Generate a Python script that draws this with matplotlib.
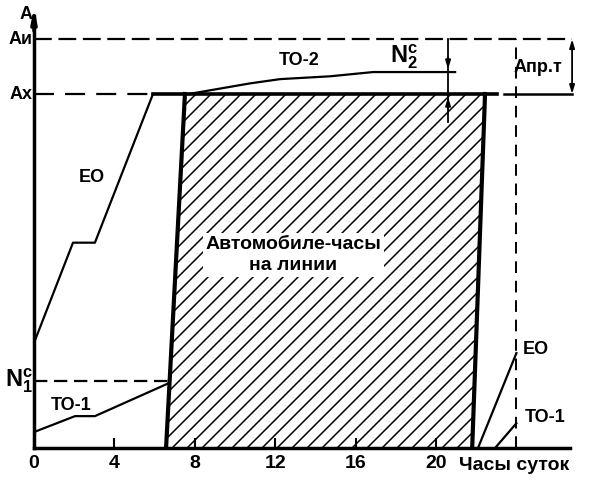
import numpy as np
import matplotlib.pyplot as plt
from matplotlib.patches import Polygon

plt.rcParams['font.family'] = ['Liberation Sans', 'DejaVu Sans']
plt.rcParams['font.weight'] = 'bold'
plt.rcParams['mathtext.fontset'] = 'custom'
plt.rcParams['mathtext.bf'] = 'Liberation Sans:bold'
plt.rcParams['mathtext.rm'] = 'Liberation Sans:bold'

# levels (A units, Ax = 100)
A_x = 100
A_i = 115.5
N1c = 19

# cumulative release curves (hours, cars)
eo_h = [0, 1.94, 3.03, 5.92]
eo_a = [29.7, 58, 58, 100]
to1_h = [0, 2.04, 3.03, 6.74]
to1_a = [4.5, 9, 9, 18.4]
to2_h = [7.7, 10.75, 12.24, 14.73, 16.87, 20.95]
to2_a = [100, 103, 104.2, 105, 106.2, 106.2]

# return curves after 22h
eo2_h = [22.09, 24.0]
eo2_a = [0, 26.8]
to12_h = [22.94, 24.0]
to12_a = [0, 7]

# car-hours on line (hatched)
line_h = [6.57, 7.51, 22.44, 21.8]
line_a = [0, A_x, A_x, 0]

day_end = 24
n2_h = 20.6
apr_h = 26.77
x_ticks = [0, 4, 8, 12, 16, 20]

px_h = 20.1   # pixels per hour
px_a = 3.54   # pixels per car

fig = plt.figure(figsize=(6, 4.8), dpi=100)
ax = fig.add_axes([34 / 600, 32 / 480, 564 / 600, 448 / 480])
ax.set_xlim(0, 564 / px_h)
ax.set_ylim(0, 448 / px_a)

for s in ['top', 'right']:
    ax.spines[s].set_visible(False)
ax.spines['left'].set_linewidth(2.5)
ax.spines['bottom'].set_linewidth(2.5)
ax.spines['left'].set_bounds(0, 122)
ax.spines['bottom'].set_bounds(0, 26.67)
ax.annotate('', xy=(0, 125.5), xytext=(0, 117),
            arrowprops=dict(arrowstyle='-|>,head_width=0.15,head_length=0.8',
                            color='black', lw=2.5), annotation_clip=False)

ax.set_xticks(x_ticks)
ax.set_xticklabels([str(t) for t in x_ticks], fontsize=14, fontweight='bold')
ax.tick_params(axis='x', direction='in', length=7, width=1.5, pad=5)
ax.set_yticks([])
ax.text(23.9, -4.9, 'Часы суток', fontsize=14, ha='center', va='center',
        fontweight='bold')

# hatched area: 45 deg lines every 15 px, clipped to the polygon
poly = Polygon(list(zip(line_h, line_a)), closed=True, facecolor='white',
               edgecolor='none', lw=0)
ax.add_patch(poly)
run = A_x * px_a / px_h
for c in np.arange(line_h[0] - run, line_h[2] + 1, 15 / px_h):
    hl, = ax.plot([c, c + run], [0, A_x], color='black', lw=1.1)
    hl.set_clip_path(poly)
ax.plot(line_h[:2], line_a[:2], color='black', lw=3)
ax.plot(line_h[2:], line_a[2:], color='black', lw=3)

# level lines
ax.plot([0, apr_h], [A_i, A_i], color='black', lw=1.6, dashes=(8, 3))
ax.plot([0, eo_h[-1]], [A_x, A_x], color='black', lw=1.6, dashes=(9, 5))
ax.plot([eo_h[-1], 23.03], [A_x, A_x], color='black', lw=2.6)
ax.plot([23.4, apr_h], [A_x, A_x], color='black', lw=1.8)
ax.plot([0, to1_h[-1]], [N1c, N1c], color='black', lw=1.6, dashes=(6, 3))
ax.plot([day_end, day_end], [0, A_i], color='black', lw=1.4, dashes=(6, 4))

# curves
ax.plot(eo_h, eo_a, color='black', lw=1.6)
ax.plot(to1_h, to1_a, color='black', lw=1.6)
ax.plot(to2_h, to2_a, color='black', lw=1.6)
ax.plot(eo2_h, eo2_a, color='black', lw=1.6)
ax.plot(to12_h, to12_a, color='black', lw=1.6)

# N2 marker
ax.plot([n2_h, n2_h], [A_i, 92], color='black', lw=1.3)
ax.annotate('', xy=(n2_h, to2_a[-1]), xytext=(n2_h, 111),
            arrowprops=dict(arrowstyle='-|>,head_width=0.15,head_length=0.5',
                            color='black', lw=1.3))
ax.annotate('', xy=(n2_h, A_x), xytext=(n2_h, 95),
            arrowprops=dict(arrowstyle='-|>,head_width=0.15,head_length=0.5',
                            color='black', lw=1.3))

# A pr.t dimension
ax.annotate('', xy=(apr_h, A_i), xytext=(apr_h, A_x),
            arrowprops=dict(arrowstyle='<|-|>,head_width=0.15,head_length=0.5',
                            color='black', lw=1.3, shrinkA=0, shrinkB=0))

# labels
fs = 13
ax.text(-0.05, 122.5, 'A', fontsize=fs, ha='right', va='center')
ax.text(-0.05, A_i, 'Aи', fontsize=fs, ha='right', va='center')
ax.text(-0.05, A_x, 'Ax', fontsize=fs, ha='right', va='center')
ax.text(-0.05, N1c, r'$\mathbf{N_1^c}$', fontsize=fs + 4, ha='right', va='center')
ax.text(18.4, 110.5, r'$\mathbf{N_2^c}$', fontsize=fs + 4, ha='center', va='center')
ax.text(13.2, 109.6, 'ТО-2', fontsize=fs, ha='center', va='center')
ax.text(2.87, 76.3, 'ЕО', fontsize=fs, ha='center', va='center')
ax.text(1.83, 12.1, 'ТО-1', fontsize=fs, ha='center', va='center')
ax.text(24.3, 27.7, 'ЕО', fontsize=fs, ha='left', va='center')
ax.text(24.4, 8.5, 'ТО-1', fontsize=fs, ha='left', va='center')
ax.text(25.05, 107.5, 'Апр.т', fontsize=fs, ha='center', va='center')
ax.text(12.9, 54.5, 'Автомобиле-часы\nна линии', fontsize=14, ha='center',
        va='center', linespacing=1.3, zorder=5,
        bbox=dict(facecolor='white', edgecolor='none', pad=2))

fig.savefig('out.png', dpi=100)
